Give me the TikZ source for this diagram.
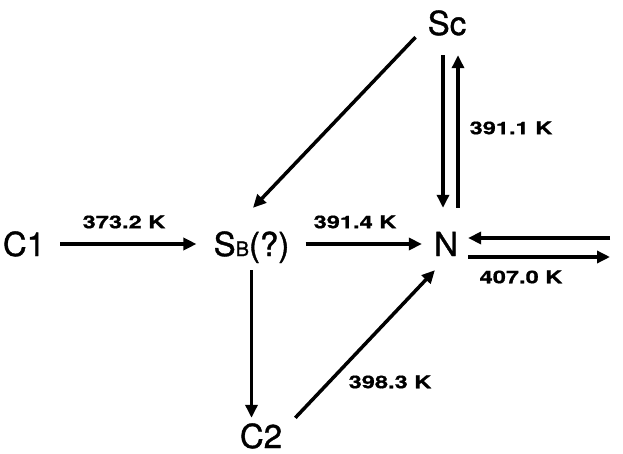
\documentclass[tikz,border=0pt]{standalone}
\usepackage{fontspec}
\setmainfont{TeX Gyre Heros}
\newfontfamily\labfont[FakeStretch=1.35,FakeBold=0.8]{TeX Gyre Heros}
\newfontfamily\nodefont[FakeBold=1.2]{TeX Gyre Heros}
\usetikzlibrary{arrows.meta}
\begin{document}
\begin{tikzpicture}[x=1pt,y=-1pt,
  st/.style={inner sep=0pt, text height=24pt, text depth=0pt, anchor=base, font=\nodefont\fontsize{33}{33}\selectfont},
  lab/.style={inner sep=0pt, text height=12.5pt, text depth=0pt, font=\labfont\bfseries\fontsize{17.5}{18}\selectfont},
  arr/.style={line width=3.5pt, -{Triangle[length=13pt,width=12pt]}}]
\useasboundingbox (0,0) rectangle (623,454);
\node[st] (C1) at (24,256) {C1};
\node[st] (SB) at (251.5,256) {S{\fontsize{20}{20}\selectfont B}(?)};
\node[st] (N) at (446,256) {N};
\node[st] (Sc) at (447,35) {Sc};
\node[st] (C2) at (261,448) {C2};
\node[lab] (l1) at (124,222) {373.2 K};
\node[lab] (l2) at (355,222) {391.4 K};
\node[lab] (l3) at (511,128) {391.1 K};
\node[lab] (l4) at (521,277) {407.0 K};
\node[lab] (l5) at (390,382) {398.3 K};
\coordinate (R1) at (610,238);
\coordinate (R2) at (610,257);
\draw[arr, shorten <=15pt, shorten >=17pt] (C1) -- (SB);
\draw[arr, shorten <=16pt, shorten >=12pt] (SB) -- (N);
\draw[arr] ([xshift=-12pt,yshift=-2pt]Sc.south west) -- ([xshift=1.5pt,yshift=24pt]SB.north);
\draw[arr, shorten <=20pt, shorten >=24pt] ([xshift=-4pt]Sc.south) -- ([xshift=-3pt]N.north);
\draw[arr, shorten <=24pt, shorten >=20pt] ([xshift=12pt]N.north) -- ([xshift=11pt]Sc.south);
\draw[arr, shorten >=10pt] (R1) -- ([yshift=6pt]N.east);
\draw[arr, shorten <=10pt] ([yshift=-13pt]N.east) -- (R2);
\draw[arr, shorten <=14pt, shorten >=6pt] (SB.south) -- (SB.south |- C2.north);
\draw[arr] ([xshift=13pt,yshift=6pt]C2.north east) -- ([xshift=1pt,yshift=-14pt]N.south west);
\end{tikzpicture}
\end{document}
